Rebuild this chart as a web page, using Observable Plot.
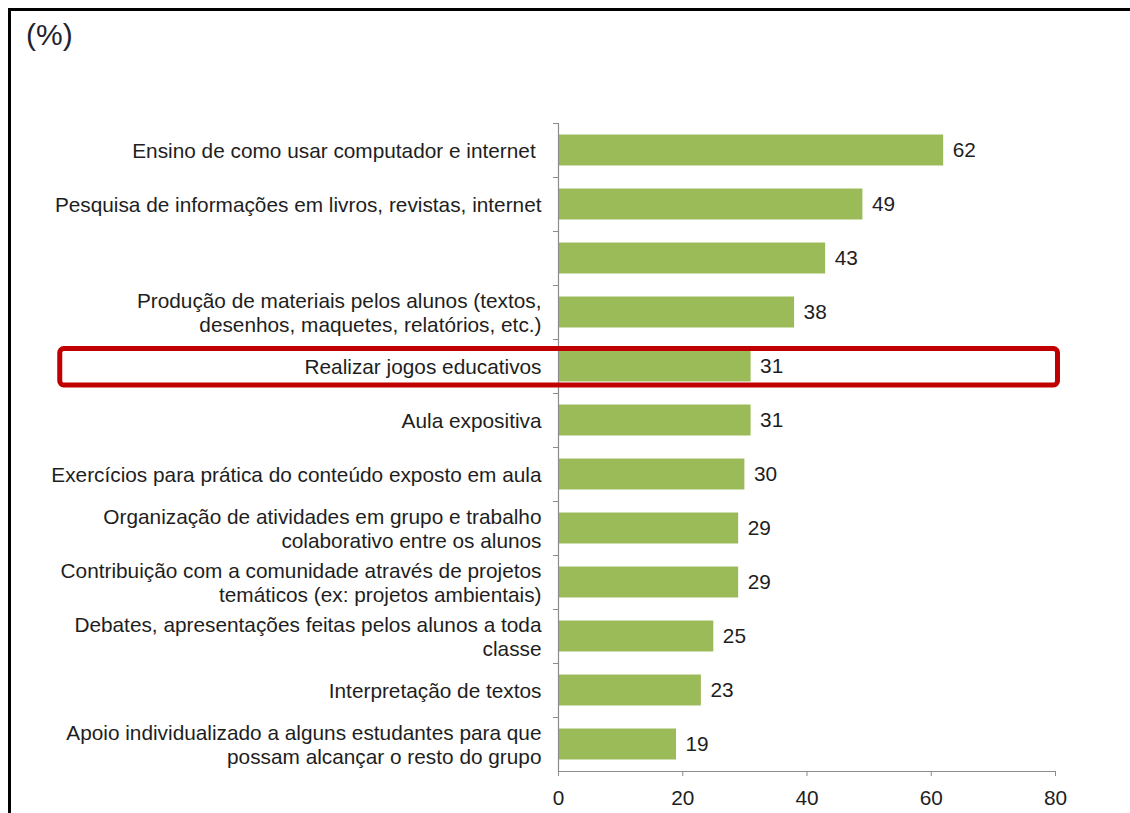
<!DOCTYPE html>
<html><head><meta charset="utf-8">
<script src="https://cdn.jsdelivr.net/npm/d3@7"></script>
<script src="https://cdn.jsdelivr.net/npm/@observablehq/plot@0.6"></script>
<style>
body{margin:0;background:#fff;font-family:"Liberation Sans",Arial,sans-serif;}
#wrap{position:relative;width:1130px;height:813px;overflow:hidden;background:#fff;}
#chart{position:absolute;left:0;top:0;}
#border{position:absolute;left:8px;top:8px;width:1200px;height:900px;border-top:3px solid #000;border-left:3px solid #000;pointer-events:none;}
#unit{position:absolute;left:26px;top:18px;font-size:30px;color:#1f2330;}
</style></head><body>
<div id="wrap"><div id="chart"></div><div id="border"></div><div id="unit">(%)</div></div>
<script>
const categories = [
  "Ensino de como usar computador e internet\u00a0",
  "Pesquisa de informações em livros, revistas, internet",
  "",
  "Produção de materiais pelos alunos (textos,\ndesenhos, maquetes, relatórios, etc.)",
  "Realizar jogos educativos",
  "Aula expositiva",
  "Exercícios para prática do conteúdo exposto em aula",
  "Organização de atividades em grupo e trabalho\ncolaborativo entre os alunos",
  "Contribuição com a comunidade através de projetos\ntemáticos (ex: projetos ambientais)",
  "Debates, apresentações feitas pelos alunos a toda\nclasse",
  "Interpretação de textos",
  "Apoio individualizado a alguns estudantes para que\npossam alcançar o resto do grupo"
];
const values = [62, 49, 43, 38, 31, 31, 30, 29, 29, 25, 23, 19];
const xTicks = [0, 20, 40, 60, 80];
const highlighted = ["Realizar jogos educativos"];
const highlightSpan = [-80.2, 80.4];

const data = categories.map((c, i) => ({category: c, value: values[i]}));
const fs = 20.8;

const chart = Plot.plot({
  width: 1130, height: 813,
  marginLeft: 558, marginRight: 75, marginTop: 123, marginBottom: 42,
  style: {fontFamily: '"Liberation Sans", Arial, sans-serif', fontSize: fs + "px", color: "#1e1e1e", background: "transparent"},
  x: {domain: [0, 80], axis: null},
  y: {domain: categories, padding: 0, axis: null},
  marks: [
    Plot.barX(data, {x: "value", y: "category", fill: "#9bbb59", insetTop: 11.5, insetBottom: 11.5}),
    Plot.ruleX([0], {stroke: "#8c8c8c", strokeWidth: 1.2}),
    Plot.frame({anchor: "bottom", stroke: "#8c8c8c", strokeWidth: 1.2}),
    Plot.axisX({ticks: xTicks, tickSize: 5, tickPadding: 14, stroke: "#8c8c8c", fill: "#1e1e1e", fontSize: fs, label: null}),
    Plot.axisY({tickSize: 5, tickFormat: () => "", dy: -27, stroke: "#8c8c8c", label: null}),
    Plot.text(data, {x: 0, y: "category", text: "category", textAnchor: "end", dx: -17, lineHeight: 1.16, fill: "#1e1e1e", fontSize: fs}),
    Plot.text(data, {x: "value", y: "category", text: d => String(d.value), textAnchor: "start", dx: 9, fill: "#1e1e1e", fontSize: fs}),
    Plot.barX(highlighted, {x1: highlightSpan[0], x2: highlightSpan[1], y: d => d, fill: "none", stroke: "#c00000", strokeWidth: 5, rx: 4, insetTop: 9.5, insetBottom: 8})
  ]
});
document.getElementById("chart").appendChild(chart);
</script>
</body></html>
